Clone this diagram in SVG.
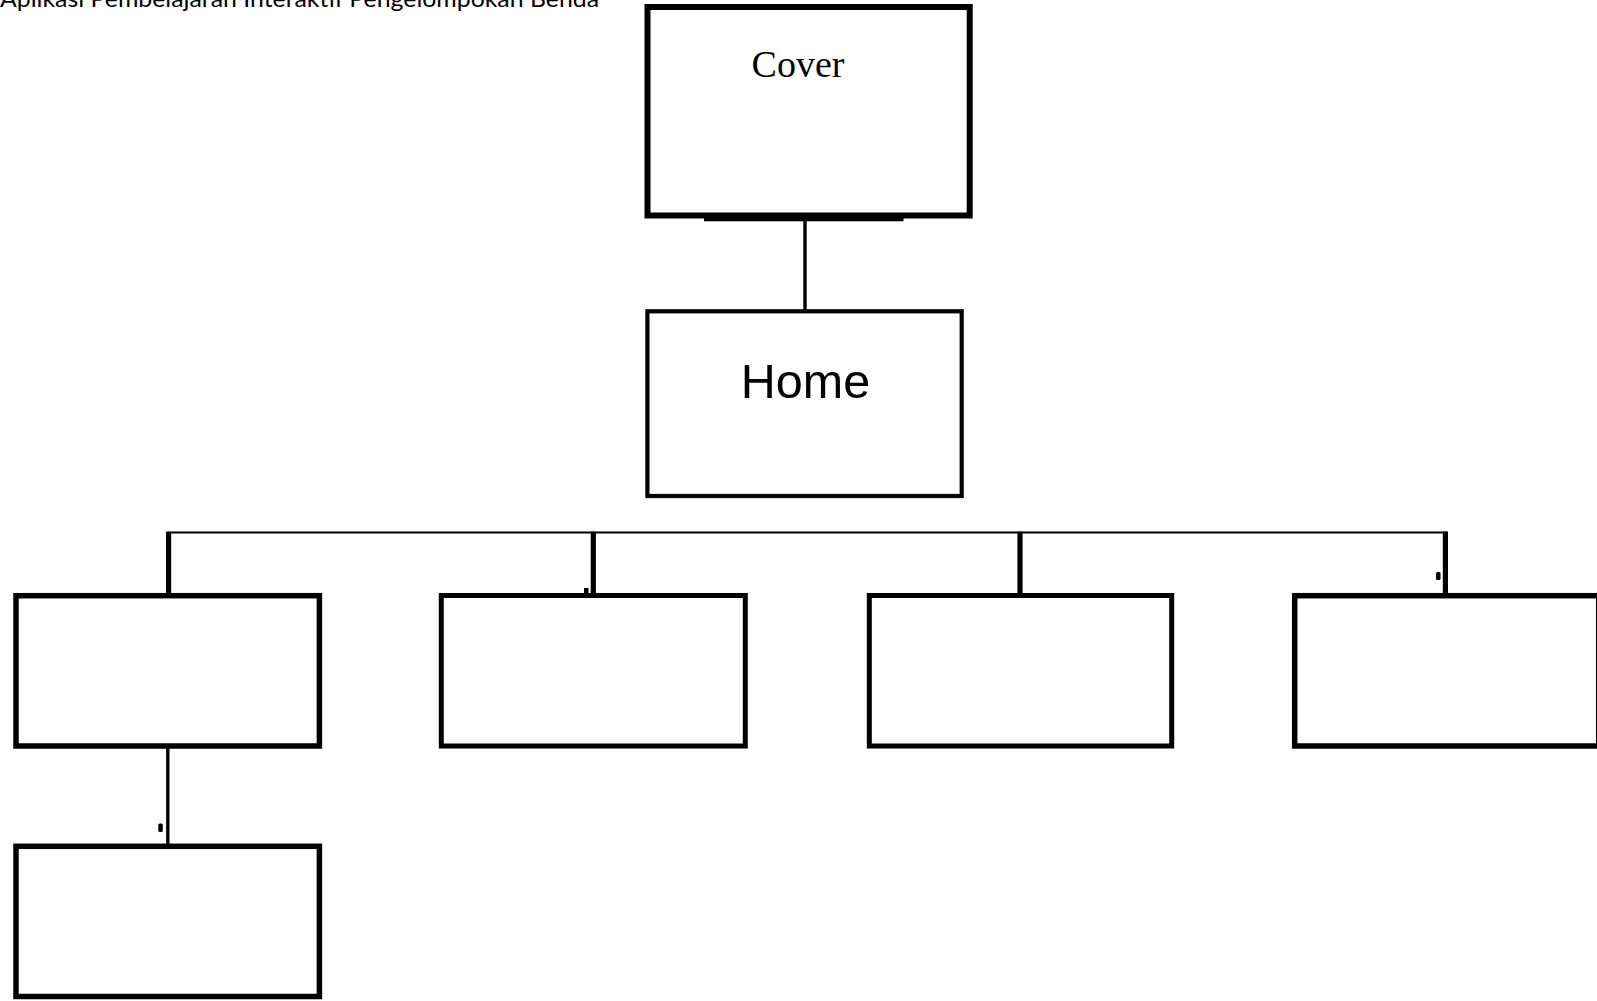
<svg xmlns="http://www.w3.org/2000/svg" width="1597" height="1001" viewBox="0 0 1597 1001">
<style>
.box{fill:#fff;stroke:#000;stroke-linejoin:miter}
.ln{stroke:#000;fill:none}
.title{font-family:"Lato","Open Sans",sans-serif;font-size:24px;fill:#000}
.cover{font-family:"Liberation Serif","Times New Roman",serif;font-size:38px;fill:#000}
.home{font-family:"Liberation Sans",Arial,sans-serif;font-size:48.5px;fill:#000}
</style>
<rect width="1597" height="1001" fill="#fff"/>
<text class="title" x="0" y="7" textLength="599" lengthAdjust="spacingAndGlyphs">Aplikasi Pembelajaran Interaktif Pengelompokan Benda</text>
<g id="connectors">
<line class="ln" x1="805" y1="218" x2="805" y2="311" stroke-width="3.4"/>
<line class="ln" x1="168.5" y1="532.5" x2="1448" y2="532.5" stroke-width="1.8"/>
<line class="ln" x1="168.6" y1="531.6" x2="168.6" y2="595" stroke-width="5.2"/>
<line class="ln" x1="593.3" y1="531.6" x2="593.3" y2="595" stroke-width="5.2"/>
<line class="ln" x1="1020" y1="531.6" x2="1020" y2="595" stroke-width="5.2"/>
<line class="ln" x1="1445.4" y1="531.6" x2="1445.4" y2="595" stroke-width="5.2"/>
<line class="ln" x1="167.8" y1="748" x2="167.8" y2="846" stroke-width="3.4"/>
<rect x="584" y="588" width="4.5" height="5" fill="#000"/>
<rect x="1436" y="572" width="4.5" height="8" rx="1.5" fill="#000"/>
<rect x="158.3" y="823.5" width="4.5" height="8.5" rx="1.5" fill="#000"/>
</g>
<g id="cover">
<rect class="box" x="647.5" y="7" width="322.2" height="208.5" stroke-width="6"/>
<rect x="704" y="214" width="199.5" height="7.3" fill="#000"/>
<text class="cover" x="798" y="77" text-anchor="middle">Cover</text>
</g>
<g id="home">
<rect class="box" x="647.4" y="311.3" width="314.3" height="184.7" stroke-width="4.2"/>
<text class="home" x="805.5" y="398" text-anchor="middle">Home</text>
</g>
<g id="node1">
<rect class="box" x="16" y="595.7" width="303.4" height="150.3" stroke-width="5.5"/>
</g>
<g id="node2">
<rect class="box" x="441.3" y="595.5" width="304" height="150.5" stroke-width="5"/>
</g>
<g id="node3">
<rect class="box" x="869.3" y="595.5" width="302.4" height="150.5" stroke-width="5"/>
</g>
<g id="node4">
<rect class="box" x="1294.7" y="595.7" width="304" height="150.3" stroke-width="5.5"/>
</g>
<g id="node5">
<rect class="box" x="16" y="846.3" width="303.4" height="150.2" stroke-width="5.5"/>
</g>
</svg>
